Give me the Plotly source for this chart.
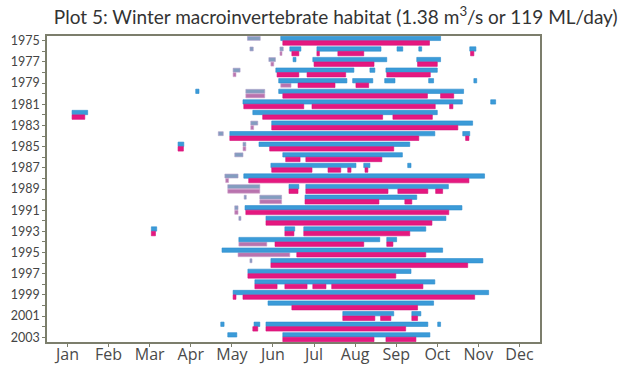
import plotly.graph_objects as go

months = ["Jan", "Feb", "Mar", "Apr", "May", "Jun", "Jul", "Aug", "Sep", "Oct", "Nov", "Dec"]
years = list(range(1975, 2004))

# Spells expressed as (year, start month, end month); month 0.0 = 1 January
blue_spells = [
    (1975, 5.69, 9.58),
    (1976, 5.91, 6.18), (1976, 6.57, 8.13), (1976, 8.52, 8.66), (1976, 9.05, 9.12), (1976, 10.29, 10.44),
    (1977, 5.99, 6.06), (1977, 6.47, 8.27), (1977, 9.00, 9.58),
    (1978, 5.57, 7.47), (1978, 7.86, 7.98), (1978, 8.25, 9.50),
    (1979, 5.64, 7.30), (1979, 7.44, 7.93), (1979, 8.22, 8.47), (1979, 9.29, 9.41), (1979, 10.39, 10.46),
    (1980, 3.62, 3.70), (1980, 5.64, 10.14),
    (1981, 4.77, 10.11), (1981, 10.80, 10.92),
    (1982, 0.61, 0.99), (1982, 5.01, 9.50),
    (1983, 5.47, 10.36),
    (1984, 4.45, 9.44), (1984, 10.12, 10.29),
    (1985, 3.19, 3.33), (1985, 5.16, 8.83),
    (1986, 5.74, 8.65),
    (1987, 5.45, 7.52), (1987, 7.71, 7.86), (1987, 8.78, 8.86),
    (1988, 4.79, 10.65),
    (1989, 5.89, 6.13), (1989, 6.30, 9.77),
    (1990, 6.28, 9.00),
    (1991, 4.82, 10.10),
    (1992, 5.33, 9.71),
    (1993, 2.54, 2.67), (1993, 5.79, 6.03), (1993, 6.25, 9.22),
    (1994, 4.67, 8.10), (1994, 8.27, 8.51),
    (1995, 4.26, 9.63),
    (1996, 5.45, 10.61),
    (1997, 4.89, 8.86),
    (1998, 5.06, 9.44),
    (1999, 4.53, 10.75),
    (2000, 5.38, 9.41),
    (2001, 7.20, 8.44), (2001, 8.88, 9.10),
    (2002, 4.23, 4.31), (2002, 5.04, 5.18), (2002, 5.33, 9.27), (2002, 9.51, 9.58),
    (2003, 4.40, 4.62), (2003, 5.74, 9.32),
]

pink_spells = [
    (1975, 5.74, 9.31),
    (1976, 5.96, 6.13), (1976, 6.57, 6.63), (1976, 7.08, 7.71), (1976, 10.31, 10.39),
    (1977, 6.50, 7.96), (1977, 9.02, 9.50),
    (1978, 5.60, 6.13), (1978, 6.33, 7.27), (1978, 8.27, 9.33),
    (1979, 6.11, 7.01), (1979, 7.52, 7.83),
    (1980, 5.74, 9.26), (1980, 9.58, 9.90),
    (1981, 4.79, 6.25), (1981, 6.45, 9.45), (1981, 9.80, 9.88),
    (1982, 0.61, 0.92), (1982, 5.25, 8.17), (1982, 8.42, 9.38),
    (1983, 5.47, 10.00),
    (1984, 4.45, 9.05), (1984, 10.19, 10.27),
    (1985, 3.19, 3.32), (1985, 5.42, 8.44),
    (1986, 5.81, 6.16), (1986, 6.30, 8.15),
    (1987, 5.47, 6.45), (1987, 6.84, 7.15), (1987, 7.32, 7.40), (1987, 7.74, 7.81),
    (1988, 4.91, 10.27),
    (1989, 5.89, 6.11), (1989, 6.30, 8.30), (1989, 8.54, 9.27), (1989, 9.46, 9.63),
    (1990, 6.28, 8.08), (1990, 8.71, 8.88),
    (1991, 4.84, 9.78),
    (1992, 5.33, 9.37),
    (1993, 2.54, 2.64), (1993, 5.79, 6.01), (1993, 6.25, 8.83),
    (1994, 5.55, 7.71), (1994, 8.27, 8.42),
    (1995, 6.08, 9.22),
    (1996, 5.45, 10.24),
    (1997, 4.89, 8.49),
    (1998, 5.06, 5.60), (1998, 5.79, 6.33), (1998, 6.47, 6.79), (1998, 6.93, 9.15),
    (1999, 4.53, 4.60), (1999, 4.77, 10.41),
    (2000, 5.96, 9.02),
    (2001, 7.20, 7.98), (2001, 8.12, 8.37), (2001, 8.88, 9.02),
    (2002, 5.01, 5.13), (2002, 5.33, 8.73),
    (2003, 5.74, 7.96), (2003, 8.25, 8.98),
]

# Faint, uncertain spells drawn in muted tones
faint_upper_spells = [
    (1975, 4.88, 5.19), (1976, 4.94, 5.02), (1976, 5.67, 5.75), (1977, 5.40, 5.56),
    (1978, 4.53, 4.70), (1980, 4.84, 5.30), (1983, 4.96, 5.13), (1984, 4.17, 4.29),
    (1985, 4.77, 4.84), (1986, 4.57, 4.77), (1988, 4.33, 4.65), (1989, 4.40, 5.18),
    (1990, 4.80, 4.85), (1990, 5.18, 5.71), (1991, 4.57, 4.65), (1992, 4.67, 4.72),
    (1996, 4.94, 4.99),
]
faint_lower_spells = [
    (1976, 5.67, 5.72), (1977, 5.45, 5.52), (1978, 4.53, 4.60), (1979, 5.69, 5.94),
    (1980, 4.84, 5.30), (1983, 4.96, 5.03), (1985, 4.77, 4.84), (1988, 4.35, 4.42),
    (1989, 4.40, 5.18), (1990, 5.18, 5.71), (1991, 4.57, 4.65), (1994, 4.67, 5.35),
    (1995, 4.65, 5.91),
]

BLUE = "#3b9bd8"
PINK = "#e5187f"


def spell_trace(spells, color, line_color, offset, width, opacity=1.0):
    ys = [s[0] for s in spells]
    bases = [s[1] for s in spells]
    lengths = [s[2] - s[1] for s in spells]
    return go.Bar(
        y=ys, x=lengths, base=bases, orientation="h",
        offset=offset, width=width, opacity=opacity,
        marker=dict(color=color, line=dict(color=line_color, width=0.6)),
        showlegend=False, hoverinfo="skip",
    )


fig = go.Figure()
fig.add_trace(spell_trace(faint_upper_spells, "#6585b0", "#9a84bc", -0.41, 0.37, 0.8))
fig.add_trace(spell_trace(faint_lower_spells, "#a8519a", "#c58cc0", 0.02, 0.37, 0.8))
fig.add_trace(spell_trace(blue_spells, BLUE, "#2b8ccd", -0.43, 0.41))
fig.add_trace(spell_trace(pink_spells, PINK, "#d4107a", 0.0, 0.42))

axis_color = "#7c7e6c"
fig.update_layout(
    width=627, height=367,
    margin=dict(l=47, r=87, t=36, b=25),
    paper_bgcolor="white", plot_bgcolor="white",
    barmode="overlay",
    font=dict(family="Lato, sans-serif", color="#3c3c3c"),
    title=dict(
        text="Plot 5: Winter macroinvertebrate habitat (1.38 m<sup>3</sup>/s or 119 ML/day)",
        x=0.985, xanchor="right", xref="container",
        y=0.953, yanchor="middle", yref="container",
        font=dict(size=19, color="#333333"),
    ),
    xaxis=dict(
        range=[0, 12], automargin=False,
        tickvals=[i + 0.5 for i in range(12)], ticktext=months,
        ticks="outside", ticklen=3, tickcolor=axis_color,
        ticklabelstandoff=-6,
        tickfont=dict(family="Open Sans, sans-serif", size=16, color="#4a4a4a"),
        showline=True, linecolor=axis_color, linewidth=1.5, mirror=True,
        showgrid=False, zeroline=False, fixedrange=True,
    ),
    yaxis=dict(
        range=[2003.45, 1974.55], automargin=False,
        tickvals=years, ticktext=[str(y) if y % 2 == 1 else "" for y in years],
        ticks="outside", ticklen=3, tickcolor=axis_color,
        tickfont=dict(size=12.5, color="#444444"),
        showline=True, linecolor=axis_color, linewidth=1.5, mirror=True,
        showgrid=False, zeroline=False, fixedrange=True,
    ),
)

fig.write_html("out.html")
